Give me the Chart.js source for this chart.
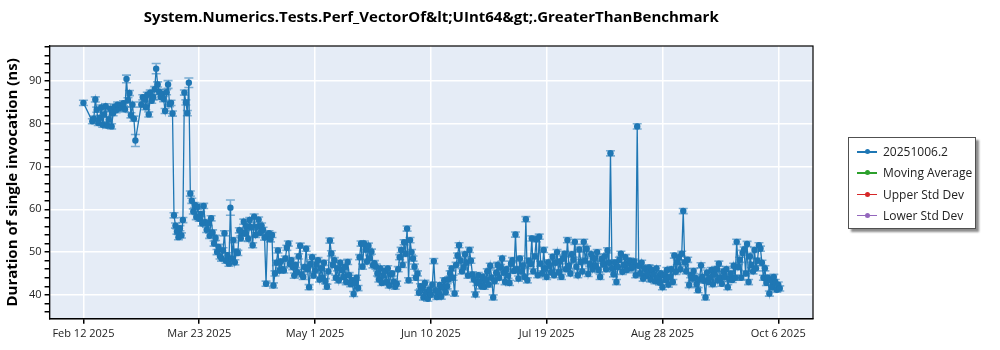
<!DOCTYPE html>
<html>
<head>
<meta charset="utf-8">
<script src="https://cdn.jsdelivr.net/npm/chart.js@4.4.0/dist/chart.umd.min.js"></script>
<style>
  body { margin: 0; background: #fff; }
  #wrap { position: relative; width: 1000px; height: 350px; }
  #legend {
    position: absolute; left: 848px; top: 137px; width: 126px; height: 90px;
    border: 1px solid #505050; box-shadow: 3px 3px 2px rgba(0, 0, 0, 0.45);
    background: #fff; font-family: "Open Sans", sans-serif; font-size: 12px; color: #222;
  }
  .item { position: absolute; left: 8px; height: 16px; line-height: 16px; white-space: nowrap; }
  .item .sw { position: absolute; left: 0; top: 7px; width: 20px; height: 1.5px; }
  .item .dot { position: absolute; left: 7.5px; top: 5px; width: 5px; height: 5px; border-radius: 50%; }
  .item span.t { position: absolute; left: 26px; top: 0; }
</style>
</head>
<body>
<div id="wrap">
  <canvas id="perfChart" width="1000" height="350"></canvas>
  <div id="legend"></div>
</div>
<script>
const tickDays = [0, 39, 78, 117, 156, 195, 234];
const tickLabels = ["Feb 12 2025", "Mar 23 2025", "May 1 2025", "Jun 10 2025", "Jul 19 2025", "Aug 28 2025", "Oct 6 2025"];
const seriesNames = ["20251006.2", "Moving Average", "Upper Std Dev", "Lower Std Dev"];
const seriesColors = ["#1f77b4", "#2ca02c", "#d62728", "#9467bd"];

// one run every half day starting Feb 12 2025 (null = no run)
const dayStep = 0.5;
const durations = [
  84.9, null, null, null, null, null, 80.6, 81.2, 85.7, 83.3, 80.2, 81.4, 83.8, 79.8, 82.2, 84.1,
  79.6, 81.0, 83.5, 79.4, 82.5, 84.0, 83.2, 84.5, 83.6, 84.3, 83.9, 84.8, 83.4, 90.5, 85.5, 87.2,
  82.0, 84.5, 81.2, 76.1, null, null, null, 84.5, 86.2, 85.8, 83.9, 86.8, 82.2, 87.3, 85.4, 86.2,
  88.1, 92.9, 89.2, 87.5, 86.3, 87.0, 85.8, 83.0, 87.4, 89.2, 84.6, 84.9, 82.4, 58.6, 56.2, 54.8,
  53.5, 55.6, 53.9, 57.5, 87.3, 85.0, 82.5, 89.6, 63.7, 62.0, 59.5, 61.0, 58.2, 60.6, 57.8, 58.9,
  56.7, 60.8, 57.0, 55.2, 56.8, 53.8, 57.9, 54.6, 52.0, 53.3, 50.0, 51.2, 49.0, 48.5, 50.4, 54.4,
  48.0, 49.3, 47.3, 60.4, 48.5, 52.8, 47.6, 50.1, 49.8, 55.1, 53.2, 54.5, 57.1, 54.4, 56.0, 53.1,
  57.5, 55.8, 51.6, 58.3, 54.0, 55.9, 57.6, 54.5, 56.2, 55.2, 53.4, 42.6, 54.0, 54.4, 53.0, 54.0,
  42.2, 45.0, 47.5, 50.4, 45.7, 47.8, 46.0, 45.7, 48.5, 51.0, 52.0, 47.2, 48.1, 46.5, 44.5, 47.0,
  45.3, 49.0, 51.5, 44.8, 44.2, 46.5, 50.8, 46.0, 41.8, 47.2, 48.8, 44.5, 45.7, 47.1, 48.1, 43.6,
  46.2, 44.0, 47.5, 43.2, 41.9, 45.5, 52.7, 49.7, 47.0, 48.1, 44.0, 46.2, 43.4, 47.5, 45.8, 44.2,
  46.5, 43.0, 47.7, 44.6, 42.5, 43.4, 40.2, 42.8, 44.0, 41.6, 48.8, 52.0, 46.6, 52.0, 50.6, 47.8,
  51.5, 48.6, 50.1, 46.9, 47.4, 46.6, 45.0, 43.6, 46.2, 42.8, 44.5, 45.6, 43.0, 46.2, 42.2, 44.8,
  45.0, 43.1, 41.9, 42.6, 46.0, 48.8, 50.5, 47.0, 52.3, 49.6, 55.5, 43.4, 52.8, 50.0, 48.5, 46.6,
  44.0, 45.0, 40.5, 42.0, 41.6, 39.4, 42.8, 40.6, 39.1, 41.2, 40.0, 42.4, 47.9, 41.0, 39.5, 40.8,
  42.3, 39.6, 41.8, 43.4, 40.6, 42.0, 43.6, 45.0, 46.2, 44.0, 40.3, 47.0, 49.2, 51.6, 48.0, 45.5,
  46.4, 49.5, 47.6, 44.5, 50.5, 48.0, 44.8, 43.6, 40.1, 42.8, 44.6, 43.0, 42.0, 44.2, 41.9, 43.5,
  45.5, 42.4, 46.8, 44.0, 39.4, 43.2, 45.2, 47.0, 44.0, 46.5, 48.5, 45.2, 43.0, 46.0, 44.5, 42.8,
  47.3, 48.1, 45.6, 54.1, 46.0, 43.8, 48.5, 45.5, 46.9, 44.2, 57.7, 43.4, 48.0, 47.2, 53.2, 45.5,
  49.0, 53.0, 44.6, 53.6, 47.3, 45.0, 50.5, 46.2, 44.2, 47.6, 46.8, 45.3, 48.9, 44.6, 47.5, 50.0,
  45.3, 47.8, 44.2, 48.5, 49.6, 46.0, 52.8, 46.8, 45.0, 49.5, 48.2, 52.4, 46.6, 44.6, 50.6, 47.7,
  45.5, 52.4, 48.0, 50.8, 44.9, 47.2, 49.5, 46.0, 48.6, 46.8, 50.0, 45.8, 44.2, 48.4, 47.2, 49.0,
  46.0, 50.4, 47.5, 73.1, 46.2, 44.8, 47.6, 43.0, 46.5, 48.2, 49.6, 45.4, 47.0, 48.8, 45.8, 47.4,
  48.0, 46.2, 46.6, 47.8, 44.6, 79.4, 46.8, 45.0, 47.5, 43.8, 46.2, 44.4, 45.0, 46.4, 43.6, 45.8,
  44.8, 43.2, 46.2, 44.0, 42.9, 45.0, 41.8, 44.6, 43.5, 45.8, 42.4, 44.2, 46.0, 43.0, 49.2, 45.4,
  47.6, 48.8, 46.0, 49.6, 59.6, 47.6, 45.5, 48.2, 42.3, 44.6, 43.8, 45.6, 44.0, 42.5, 41.1, 43.6,
  46.9, 44.2, 43.3, 39.4, 45.2, 43.0, 44.0, 45.8, 42.5, 44.8, 46.0, 43.4, 47.3, 44.0, 42.6, 45.5,
  44.2, 46.0, 41.8, 43.7, 45.0, 43.5, 46.8, 44.0, 52.4, 46.5, 48.2, 44.0, 49.8, 50.6, 45.0, 51.9,
  43.0, 49.0, 47.0, 45.5, 50.5, 46.2, 48.0, 51.6, 50.8, 47.5, 44.0, 46.2, 42.8, 44.0, 40.3, 43.5,
  41.8, 44.2, 43.0, 41.2, 42.4, 41.5
];

// error bar half-widths: wider ones listed by day, the rest use the usual spread
const defaultError = 0.6;
const errorDays = [14.5, 17.5, 24.5, 28.5, 35.5, 49.5];
const errorSizes = [0.9, 1.4, 1.2, 0.9, 1.1, 1.8];

const plotBackground = {
  id: "plotBackground",
  beforeDraw(chart) {
    const { ctx, chartArea: a } = chart;
    ctx.save();
    ctx.fillStyle = "#e5ecf6";
    ctx.fillRect(a.left, a.top, a.right - a.left, a.bottom - a.top);
    ctx.restore();
  },
  afterDraw(chart) {
    const { ctx, chartArea: a } = chart;
    ctx.save();
    ctx.strokeStyle = "#000";
    ctx.lineWidth = 1.2;
    ctx.strokeRect(a.left, a.top, a.right - a.left, a.bottom - a.top);
    ctx.restore();
  },
};

const errorBars = {
  id: "errorBars",
  beforeDatasetsDraw(chart) {
    const { ctx, scales: { x, y } } = chart;
    ctx.save();
    ctx.strokeStyle = "rgba(31, 119, 180, 0.55)";
    ctx.lineWidth = 1.6;
    durations.forEach((v, i) => {
      if (v === null) return;
      const d = i * dayStep;
      const k = errorDays.indexOf(d);
      const e = k >= 0 ? errorSizes[k] : defaultError;
      const px = x.getPixelForValue(d);
      const top = y.getPixelForValue(v + e);
      const bot = y.getPixelForValue(v - e);
      ctx.beginPath();
      ctx.moveTo(px, top); ctx.lineTo(px, bot);
      ctx.moveTo(px - 4.5, top); ctx.lineTo(px + 4.5, top);
      ctx.moveTo(px - 4.5, bot); ctx.lineTo(px + 4.5, bot);
      ctx.stroke();
    });
    ctx.restore();
  },
};

const datasets = seriesNames.map((name, i) => ({
  label: name,
  data: i === 0 ? durations.map((v, j) => ({ x: j * dayStep, y: v })) : [],
  borderColor: seriesColors[i],
  backgroundColor: seriesColors[i],
  borderWidth: 1.3,
  pointRadius: 3.2,
  pointBorderWidth: 0,
  spanGaps: true,
  fill: false,
}));

const ctx = document.getElementById("perfChart").getContext("2d");
const perfChart = new Chart(ctx, {
  type: "line",
  data: { datasets },
  options: {
    responsive: false,
    animation: false,
    layout: { padding: { left: 0, right: 187, top: 0, bottom: 7 } },
    plugins: {
      legend: { display: false },
      tooltip: { enabled: false },
      title: {
        display: true,
        fullSize: false,
        text: "System.Numerics.Tests.Perf_VectorOf&lt;UInt64&gt;.GreaterThanBenchmark",
        color: "#000",
        font: { family: "Open Sans", size: 15, weight: "bold" },
        padding: { top: 9, bottom: 19 },
      },
    },
    scales: {
      x: {
        type: "linear",
        min: -11.4,
        max: 245.7,
        afterBuildTicks: (axis) => { axis.ticks = tickDays.map((v) => ({ value: v })); },
        ticks: {
          autoSkip: false,
          maxRotation: 0,
          color: "#222",
          font: { family: "Open Sans", size: 11 },
          padding: 3,
          callback: (v) => tickLabels[tickDays.indexOf(v)],
        },
        grid: { color: "#fff", lineWidth: 1.5, tickColor: "#000", tickLength: 5 },
        border: { display: true, color: "#000", width: 1.2 },
      },
      y: {
        min: 34.4,
        max: 98.2,
        ticks: {
          stepSize: 2,
          includeBounds: false,
          autoSkip: false,
          color: "#222",
          font: { family: "Open Sans", size: 11 },
          padding: 3,
          callback: (v) => (v % 10 === 0 ? v : ""),
        },
        grid: {
          color: (c) => (c.tick && c.tick.value % 10 === 0 ? "#fff" : "rgba(0,0,0,0)"),
          lineWidth: 1.5,
          tickColor: "#000",
          tickLength: 5,
        },
        border: { display: true, color: "#000", width: 1.2 },
        title: {
          display: true,
          text: "Duration of single invocation (ns)",
          color: "#000",
          font: { family: "Open Sans", size: 15, weight: "bold" },
          padding: { top: 4, bottom: 4 },
        },
      },
    },
  },
  plugins: [plotBackground, errorBars],
});

// legend box built from the chart's own datasets
const legendEl = document.getElementById("legend");
perfChart.data.datasets.forEach((ds, i) => {
  const item = document.createElement("div");
  item.className = "item";
  item.style.top = (6 + i * 21.3) + "px";
  item.innerHTML =
    '<div class="sw" style="background:' + ds.borderColor + '"></div>' +
    '<div class="dot" style="background:' + ds.borderColor + '"></div>' +
    '<span class="t">' + ds.label + "</span>";
  legendEl.appendChild(item);
});
</script>
</body>
</html>
